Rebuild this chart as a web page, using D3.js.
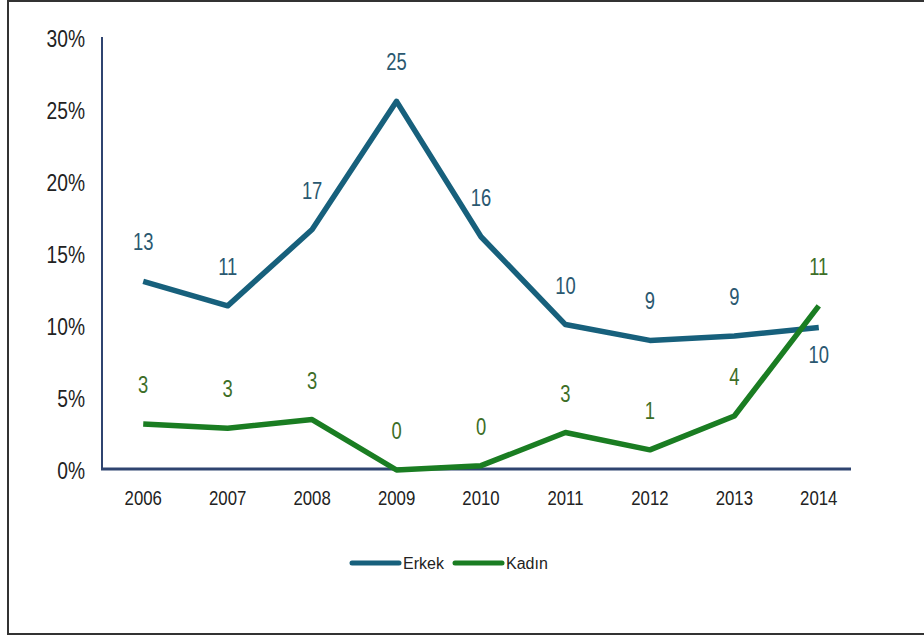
<!DOCTYPE html>
<html>
<head>
<meta charset="utf-8">
<script src="https://cdn.jsdelivr.net/npm/d3@7"></script>
<style>
  body { margin: 0; background: #fff; }
  text { font-family: "Liberation Sans", Arial, sans-serif; }
</style>
</head>
<body>
<svg id="chart" width="924" height="636"></svg>
<script>
var years = ["2006", "2007", "2008", "2009", "2010", "2011", "2012", "2013", "2014"];
var erkek = [13.1, 11.4, 16.7, 25.6, 16.2, 10.1, 9.0, 9.3, 9.9];
var kadin = [3.2, 2.9, 3.5, 0.0, 0.3, 2.6, 1.4, 3.75, 11.4];
var erkekLabels = ["13", "11", "17", "25", "16", "10", "9", "9", "10"];
var kadinLabels = ["3", "3", "3", "0", "0", "3", "1", "4", "11"];
var yTicks = [0, 5, 10, 15, 20, 25, 30];

var svg = d3.select("#chart");

// frame round the picture
svg.append("path")
    .attr("d", "M924,1 H8 V634 H924")
    .attr("fill", "none")
    .attr("stroke", "#333")
    .attr("stroke-width", 2);

var x = d3.scaleBand().domain(years).range([101, 861]);
var y = d3.scaleLinear().domain([0, 30]).range([470, 38]);

var xc = d => x(d) + x.bandwidth() / 2;

// narrow text: squeeze horizontally around its own anchor
function narrow(px, py, k) {
  return "translate(" + px + "," + py + ") scale(" + k + ",1)";
}

// y axis labels
svg.selectAll(".ytick")
  .data(yTicks)
  .enter().append("text")
    .attr("transform", d => narrow(85, y(d) + 9, 0.8))
    .attr("text-anchor", "end")
    .attr("font-size", 24)
    .attr("fill", "#222")
    .text(d => d + "%");

// x axis labels
svg.selectAll(".xtick")
  .data(years)
  .enter().append("text")
    .attr("transform", d => narrow(xc(d), 505, 0.84))
    .attr("text-anchor", "middle")
    .attr("font-size", 20)
    .attr("fill", "#222")
    .text(d => d);

// axis lines
svg.append("line")
    .attr("x1", 102).attr("x2", 102)
    .attr("y1", 37).attr("y2", 470)
    .attr("stroke", "#2f4470").attr("stroke-width", 2);
svg.append("line")
    .attr("x1", 101).attr("x2", 851)
    .attr("y1", 469).attr("y2", 469)
    .attr("stroke", "#2f4470").attr("stroke-width", 3);

var line = d3.line()
    .x((d, i) => xc(years[i]))
    .y(d => y(d));

var series = [
  { name: "Erkek", values: erkek, labels: erkekLabels, color: "#17607c", labelColor: "#2a5870" },
  { name: "Kadın", values: kadin, labels: kadinLabels, color: "#1a7d22", labelColor: "#3d6e27" }
];

series.forEach(s => {
  svg.append("path")
      .datum(s.values)
      .attr("d", line)
      .attr("fill", "none")
      .attr("stroke", s.color)
      .attr("stroke-width", 5.5)
      .attr("stroke-linejoin", "round");
});

// data labels
series.forEach(s => {
  svg.selectAll(null)
    .data(s.values)
    .enter().append("text")
      .attr("transform", (d, i) => {
        var ly = (s.name === "Erkek" && i === 8) ? y(d) + 36 : y(d) - 31;
        return narrow(xc(years[i]), ly, 0.8);
      })
      .attr("text-anchor", "middle")
      .attr("font-size", 23)
      .attr("fill", s.labelColor)
      .text((d, i) => s.labels[i]);
});

// legend
var legend = svg.append("g").attr("transform", "translate(352,563)");
series.forEach((s, i) => {
  var g = legend.append("g").attr("transform", "translate(" + (i * 103) + ",0)");
  g.append("line")
      .attr("x1", 0).attr("x2", 47)
      .attr("stroke", s.color)
      .attr("stroke-width", 5)
      .attr("stroke-linecap", "round");
  g.append("text")
      .attr("x", 51)
      .attr("y", 6)
      .attr("font-size", 16)
      .attr("fill", "#222")
      .text(s.name);
});
</script>
</body>
</html>
